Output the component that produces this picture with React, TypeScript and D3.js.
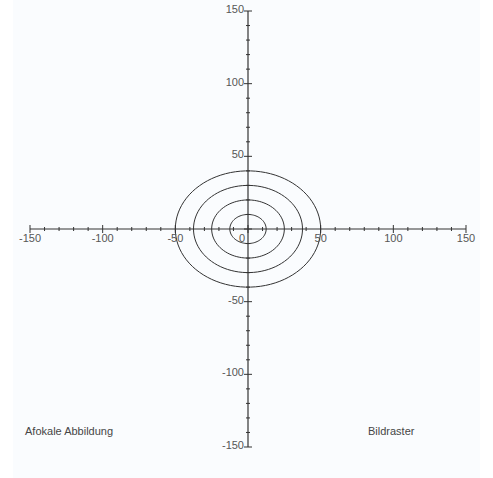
import React from "react";
import * as d3 from "d3";

const WIDTH = 493;
const HEIGHT = 478;

// Axis extents and tick values
const axisDomain = [-150, 150];
const majorTicks = [-150, -100, -50, 0, 50, 100, 150];
const minorTicks = d3.range(-150, 151, 10).filter((v) => v % 50 !== 0);

// Concentric ellipses: horizontal and vertical half-axes
const radiiX = [12.5, 25, 37.5, 50];
const radiiY = [10, 20, 30, 40];

// Corner captions
const captionLeft = "Afokale Abbildung";
const captionRight = "Bildraster";

export default function App() {
  const x = d3.scaleLinear().domain(axisDomain).range([30, 466]);
  const y = d3.scaleLinear().domain(axisDomain).range([447, 11]);
  const x0 = x(0);
  const y0 = y(0);
  const axisColor = "#333333";
  const textColor = "#555555";
  const font = "Liberation Sans, Arial, sans-serif";

  const ellipsePath = (rx: number, ry: number) => {
    const pts: [number, number][] = d3.range(0, 361, 4).map((deg) => {
      const t = (deg * Math.PI) / 180;
      return [x(rx * Math.cos(t)), y(ry * Math.sin(t))];
    });
    return d3.line()(pts) ?? "";
  };

  return (
    <svg
      width={WIDTH}
      height={HEIGHT}
      style={{ position: "absolute", left: 0, top: 0, display: "block" }}
    >
      <rect x={0} y={0} width={WIDTH} height={HEIGHT} fill="#ffffff" />
      <rect x={13} y={0} width={467} height={HEIGHT} fill="#fafcfe" />

      {/* ellipses */}
      {radiiX.map((rx, i) => (
        <path
          key={i}
          d={ellipsePath(rx, radiiY[i])}
          fill="none"
          stroke={axisColor}
          strokeWidth={1}
        />
      ))}

      {/* x axis */}
      <line x1={x(-150)} x2={x(150)} y1={y0} y2={y0} stroke={axisColor} strokeWidth={1.2} />
      {minorTicks.map((v) => (
        <line key={`xm${v}`} x1={x(v)} x2={x(v)} y1={y0 - 2} y2={y0 + 2} stroke={axisColor} />
      ))}
      {majorTicks.map((v) => (
        <line key={`xM${v}`} x1={x(v)} x2={x(v)} y1={y0 - 4} y2={y0 + 4} stroke={axisColor} />
      ))}

      {/* y axis */}
      <line x1={x0} x2={x0} y1={y(-150)} y2={y(150)} stroke={axisColor} strokeWidth={1.2} />
      {minorTicks.map((v) => (
        <line key={`ym${v}`} x1={x0 - 2} x2={x0 + 2} y1={y(v)} y2={y(v)} stroke={axisColor} />
      ))}
      {majorTicks.map((v) => (
        <line key={`yM${v}`} x1={x0 - 4} x2={x0 + 4} y1={y(v)} y2={y(v)} stroke={axisColor} />
      ))}

      <g style={{ opacity: 0.99 }}>
        {majorTicks.map((v) => (
          <text
            key={`xl${v}`}
            x={v === 0 ? x0 - 3 : x(v)}
            y={y0 + 13}
            textAnchor={v === 0 ? "end" : "middle"}
            fontFamily={font}
            fontSize={11}
            fill={textColor}
          >
            {v}
          </text>
        ))}
        {majorTicks
          .filter((v) => v !== 0)
          .map((v) => (
            <text
              key={`yl${v}`}
              x={x0 - 4}
              y={y(v) + 2}
              textAnchor="end"
              fontFamily={font}
              fontSize={11}
              fill={textColor}
            >
              {v}
            </text>
          ))}

        {/* captions */}
        <text x={25} y={435} fontFamily={font} fontSize={11} fill="#444444">
          {captionLeft}
        </text>
        <text x={368} y={435} fontFamily={font} fontSize={11} fill="#444444">
          {captionRight}
        </text>
      </g>
    </svg>
  );
}
